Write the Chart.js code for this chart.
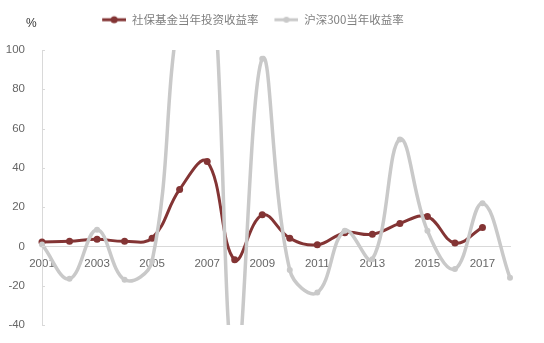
<!DOCTYPE html>
<html>
<head>
<meta charset="utf-8">
<script src="https://cdn.jsdelivr.net/npm/chart.js@4"></script>
<style>
  html, body { margin: 0; padding: 0; background: #fff; }
  #wrap { width: 544px; height: 343px; }
</style>
</head>
<body>
<div id="wrap"><canvas id="chart" width="544" height="343"></canvas></div>
<script>
// years on the x axis
const years = ["2001","2002","2003","2004","2005","2006","2007","2008","2009",
  "2010","2011","2012","2013","2014","2015","2016","2017","2018"];
// 社保基金当年投资收益率 (%)
const nssfReturn = [2.3, 2.6, 3.6, 2.6, 4.2, 29.0, 43.2, -6.8, 16.1,
  4.2, 0.8, 7.0, 6.2, 11.7, 15.2, 1.7, 9.7, null];
// 沪深300当年收益率 (%)
const hs300Return = [1, -16.5, 8.5, -17, -7.5, 121, 161.5, -66, 95.5,
  -12, -23.5, 8, -6.5, 54.5, 8, -11.5, 22, -16];
const yTicks = [-40, -20, 0, 20, 40, 60, 80, 100];

const RED = "#833434";
const GREY = "#c9c9c9";
const TEXT = "#666666";
const AXIS = "#d9d9d9";
const NUM_FONT = "'Liberation Sans Narrow', 'Liberation Sans', Arial, sans-serif";

// little line + dot icons for the legend
function legendIcon(color, r) {
  const c = document.createElement("canvas");
  c.width = 30; c.height = 12;
  const g = c.getContext("2d");
  g.strokeStyle = color; g.lineWidth = 3;
  g.beginPath(); g.moveTo(6, 6); g.lineTo(30, 6); g.stroke();
  g.fillStyle = color;
  g.beginPath(); g.arc(18, 6, r, 0, Math.PI * 2); g.fill();
  return c;
}
const icons = [legendIcon(RED, 3.5), legendIcon(GREY, 3)];

// "%" unit above the y axis + short inward ticks on the y axis
const axisExtras = {
  id: "axisExtras",
  afterDraw(chart) {
    const ctx = chart.ctx;
    const y = chart.scales.y;
    ctx.save();
    ctx.strokeStyle = AXIS;
    ctx.lineWidth = 1;
    yTicks.forEach(v => {
      const py = Math.round(y.getPixelForValue(v)) + 0.5;
      ctx.beginPath(); ctx.moveTo(y.right, py); ctx.lineTo(y.right + 3, py); ctx.stroke();
    });
    ctx.font = "12px " + NUM_FONT;
    ctx.fillStyle = "#333";
    ctx.textBaseline = "middle";
    ctx.fillText("%", 26, 24);
    ctx.restore();
  }
};

// extra room under the legend
const legendGap = {
  id: "legendGap",
  beforeInit(chart) {
    const fit = chart.legend.fit;
    chart.legend.fit = function () {
      fit.bind(chart.legend)();
      this.height += 14.5;
    };
  }
};

new Chart(document.getElementById("chart"), {
  type: "line",
  data: {
    labels: years,
    datasets: [
      {
        label: "社保基金当年投资收益率",
        data: nssfReturn,
        borderColor: RED,
        backgroundColor: RED,
        borderWidth: 3,
        pointRadius: 3.5,
        pointBorderWidth: 0,
        tension: 0.4,
        order: 2
      },
      {
        label: "沪深300当年收益率",
        data: hs300Return,
        borderColor: GREY,
        backgroundColor: GREY,
        borderWidth: 3.5,
        pointRadius: 3,
        pointBorderWidth: 0,
        tension: 0.4,
        order: 1
      }
    ]
  },
  options: {
    responsive: false,
    animation: false,
    layout: { padding: { left: -10, right: 34, top: 4, bottom: 18 } },
    elements: { line: { capBezierPoints: false } },
    plugins: {
      tooltip: { enabled: false },
      legend: {
        position: "top",
        labels: {
          usePointStyle: true,
          pointStyleWidth: 30,
          padding: 10,
          color: "#7f7f7f",
          font: { family: "'Noto Sans CJK SC', sans-serif", size: 11.5 },
          sort: (a, b) => a.datasetIndex - b.datasetIndex,
          generateLabels(chart) {
            const items = Chart.defaults.plugins.legend.labels.generateLabels(chart);
            items.forEach(it => { it.pointStyle = icons[it.datasetIndex]; });
            return items;
          }
        }
      }
    },
    scales: {
      x: {
        type: "category",
        position: { y: 0 },
        offset: false,
        afterFit(scale) { scale.height = 0; },
        grid: { display: false, drawTicks: false },
        border: { display: true, color: AXIS, width: 1 },
        ticks: {
          autoSkip: false,
          maxRotation: 0,
          padding: 10,
          color: TEXT,
          font: { family: NUM_FONT, size: 11.5 },
          callback(value, index) { return index % 2 === 0 && index < 17 ? years[index] : ""; }
        }
      },
      y: {
        min: -40,
        max: 100,
        afterBuildTicks(scale) { scale.ticks = yTicks.map(v => ({ value: v })); },
        afterFit(scale) { scale.width = 52; },
        grid: { drawOnChartArea: false, drawTicks: true, tickLength: 13, tickColor: "rgba(0,0,0,0)" },
        border: { display: true, color: AXIS, width: 1 },
        ticks: {
          padding: 4,
          color: TEXT,
          font: { family: NUM_FONT, size: 11.5 }
        }
      }
    }
  },
  plugins: [axisExtras, legendGap]
});
</script>
</body>
</html>
